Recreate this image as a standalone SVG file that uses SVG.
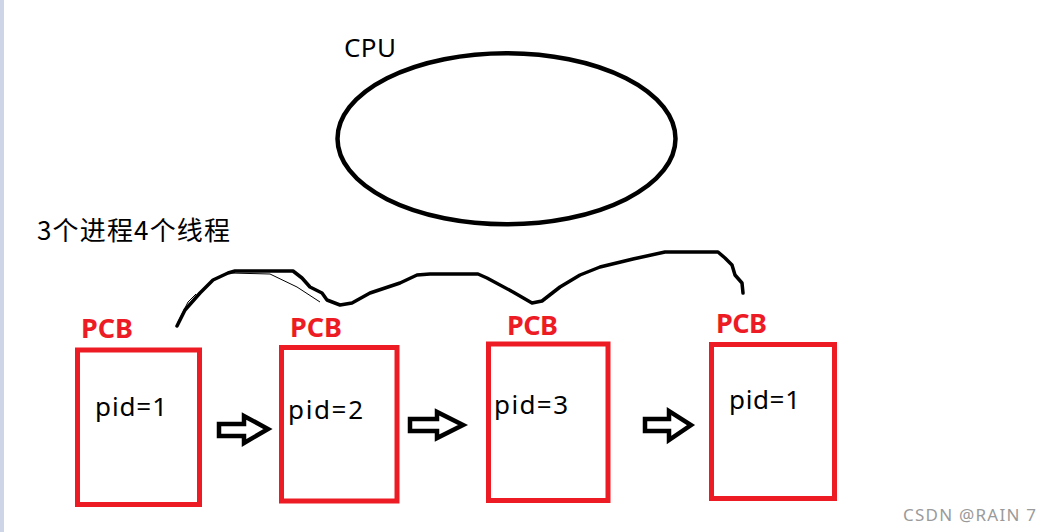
<svg xmlns="http://www.w3.org/2000/svg" width="1052" height="532" viewBox="0 0 1052 532">
<style>
.box{fill:none;stroke:#ed1c24;stroke-width:5}
.pcb{font-family:"Noto Sans","Liberation Sans",sans-serif;font-weight:bold;font-size:27px;fill:#ed1c24}
.pid{font-family:"Noto Sans","Liberation Sans",sans-serif;font-size:26px;fill:#000}
.arrow{fill:#fff;stroke:#000;stroke-width:4.5;stroke-linejoin:miter}
.ink{fill:none;stroke:#000;stroke-width:3.5;stroke-linejoin:round;stroke-linecap:round}
</style>
<rect x="0" y="0" width="1052" height="532" fill="#fff"/>
<rect x="0" y="0" width="4" height="532" fill="#cdd5e6"/>
<g id="cpu">
<ellipse cx="506.5" cy="138.7" rx="169" ry="85.5" fill="none" stroke="#000" stroke-width="4.5"/>
<text x="344" y="57" font-family="Noto Sans, Liberation Sans, sans-serif" font-size="26" textLength="52" fill="#000">CPU</text>
</g>
<g id="title">
<text x="37" y="240" font-family="Noto Sans CJK SC, Noto Sans, sans-serif" font-size="26" textLength="193" fill="#000">3个进程4个线程</text>
</g>
<g id="pcb1">
<rect class="box" x="77.5" y="350" width="122" height="154.5"/>
<text class="pcb" x="81" y="338" textLength="52">PCB</text>
<text class="pid" x="95" y="416" textLength="72">pid=1</text>
</g>
<g id="pcb2">
<rect class="box" x="281.5" y="347.5" width="115.5" height="153.5"/>
<text class="pcb" x="290" y="337" textLength="52">PCB</text>
<text class="pid" x="288" y="419" textLength="75">pid=2</text>
</g>
<g id="pcb3">
<rect class="box" x="488.5" y="344" width="119.5" height="156.5"/>
<text class="pcb" x="507" y="335" textLength="51">PCB</text>
<text class="pid" x="494" y="414" textLength="74">pid=3</text>
</g>
<g id="pcb4">
<rect class="box" x="711.5" y="344.5" width="123" height="154"/>
<text class="pcb" x="716" y="333" textLength="51">PCB</text>
<text class="pid" x="729" y="409" textLength="71">pid=1</text>
</g>
<g id="connectors">
<path class="arrow" d="M219,424 L244,424 L244,416 L268,429 L244,443 L244,436 L219,436 Z"/>
<path class="arrow" d="M410,419 L437,419 L437,412 L463,425 L437,438 L437,431 L410,431 Z"/>
<path class="arrow" d="M645,419 L669,419 L669,411 L691,425 L669,440 L669,431 L645,431 Z"/>
<path class="ink" d="M177,326 L185,310 L200,293 L213,280 L228,273 L235,271 L293,271 L302,278 L310,287 L322,293 L327,300 L340,305 L352,303 L370,293 L400,283 L417,275 L430,274 L478,274 L487,278 L513,292 L532,303 L542,301 L560,287 L580,275 L600,267 L633,259 L665,252 L718,252 L725,258 L732,265 L735,275 L742,283 L743,293"/>
<path d="M230,273 L270,274 L297,287 L320,302" fill="none" stroke="#000" stroke-width="1"/>
<path d="M178,322 L188,302 L196,294" fill="none" stroke="#000" stroke-width="1"/>
</g>
<text x="903" y="521" font-family="Noto Sans, Liberation Sans, sans-serif" font-size="17" textLength="133" fill="#9a9a9a">CSDN @RAIN 7</text>
</svg>
